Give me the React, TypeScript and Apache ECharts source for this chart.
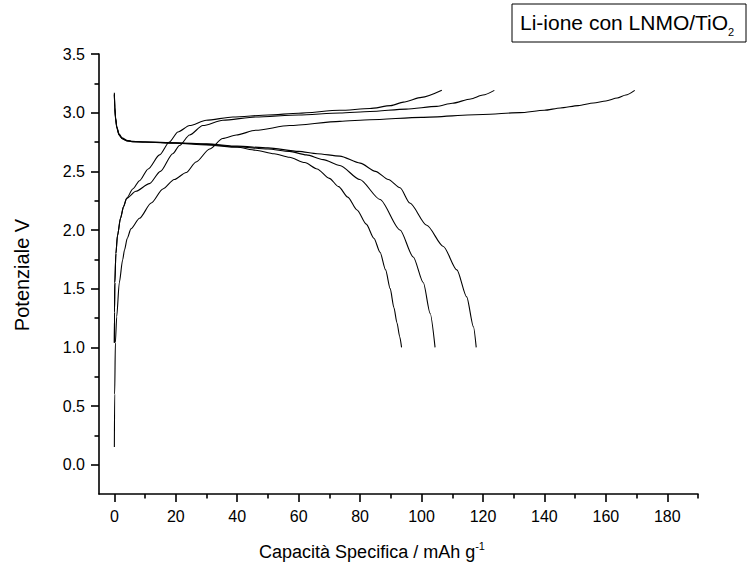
import React, { useEffect, useRef } from "react";
import * as echarts from "echarts";

const FONT = "'Liberation Sans', Arial, Helvetica, sans-serif";

// Axis ticks
const xTickValues = [0, 20, 40, 60, 80, 100, 120, 140, 160, 180];
const xMinorValues = [10, 30, 50, 70, 90, 110, 130, 150, 170, 190];
const yTickValues = [0, 0.5, 1, 1.5, 2, 2.5, 3, 3.5];
const yMinorValues = [0.25, 0.75, 1.25, 1.75, 2.25, 2.75, 3.25];

// Charge curves (capacity mAh/g, potential V)
const charge1X = [0, 0.05, 0.15, 0.5, 1.0, 2.0, 3.0, 4.0, 6, 8.2, 11, 14.7, 17.9, 20.7, 24.5, 29.9, 38.6, 50, 60, 73.4, 83.2, 90, 94.1, 100, 106.6];
const charge1V = [1.04, 1.3, 1.55, 1.8, 1.95, 2.1, 2.2, 2.27, 2.35, 2.42, 2.52, 2.64, 2.75, 2.835, 2.89, 2.935, 2.963, 2.98, 2.995, 3.02, 3.035, 3.06, 3.09, 3.13, 3.19];

const charge2X = [0, 0.05, 0.15, 0.5, 1.0, 2.0, 3.0, 4.0, 7, 11.4, 15, 19, 21.2, 24.5, 28.8, 35.3, 46, 60, 73.4, 83.2, 95, 105, 110, 116, 120, 123.7];
const charge2V = [1.04, 1.3, 1.55, 1.8, 1.95, 2.1, 2.2, 2.27, 2.33, 2.395, 2.5, 2.65, 2.72, 2.81, 2.89, 2.935, 2.963, 2.98, 2.997, 3.01, 3.03, 3.054, 3.08, 3.117, 3.15, 3.19];

const charge3X = [0, 0.1, 0.33, 0.76, 1.6, 2.7, 3.3, 4.2, 5.4, 8.2, 12, 15.8, 19.5, 23.4, 26.6, 31, 35.3, 39.7, 46, 57, 73.4, 83.2, 100, 120, 132, 140, 145.2, 151, 156, 160, 163.7, 166.5, 169.4];
const charge3V = [0.15, 0.6, 1.04, 1.26, 1.55, 1.745, 1.83, 1.93, 2.01, 2.1, 2.23, 2.35, 2.43, 2.49, 2.58, 2.69, 2.78, 2.81, 2.85, 2.89, 2.926, 2.94, 2.96, 2.985, 3.0, 3.02, 3.04, 3.06, 3.083, 3.1, 3.125, 3.15, 3.19];

// Discharge curves
const discharge1X = [0, 0.15, 0.4, 0.8, 1.5, 2.5, 4, 6, 10, 20, 30, 40, 46, 52, 57, 62, 66, 70, 73, 76, 79, 82, 84.5, 86.5, 88.3, 89.8, 91, 92, 92.9, 93.5];
const discharge1V = [3.17, 3.05, 2.96, 2.88, 2.82, 2.785, 2.765, 2.755, 2.75, 2.74, 2.725, 2.705, 2.68, 2.65, 2.62, 2.575, 2.52, 2.44, 2.37, 2.28, 2.17, 2.05, 1.93, 1.81, 1.66, 1.5, 1.34, 1.21, 1.09, 1.0];

const discharge2X = [0, 0.15, 0.4, 0.8, 1.5, 2.5, 4, 6, 10, 20, 30, 40, 50, 57, 62.5, 68, 73.4, 79.9, 86.5, 93, 97.3, 100.6, 102.8, 104.4];
const discharge2V = [3.16, 3.04, 2.95, 2.875, 2.815, 2.78, 2.762, 2.753, 2.75, 2.742, 2.73, 2.71, 2.69, 2.67, 2.64, 2.6, 2.55, 2.43, 2.26, 2.0, 1.77, 1.55, 1.29, 1.0];

const discharge3X = [0, 0.15, 0.4, 0.8, 1.5, 2.5, 4, 6, 10, 20, 30, 40, 50, 60, 66, 73.4, 80, 85, 89.2, 93, 96.2, 101.7, 107.1, 111.5, 114.7, 116.9, 117.8];
const discharge3V = [3.15, 3.03, 2.945, 2.87, 2.81, 2.778, 2.76, 2.752, 2.75, 2.744, 2.735, 2.715, 2.7, 2.67, 2.65, 2.63, 2.57, 2.5, 2.43, 2.36, 2.23, 2.04, 1.86, 1.66, 1.43, 1.175, 1.0];

const curves = [
  [charge1X, charge1V],
  [charge2X, charge2V],
  [charge3X, charge3V],
  [discharge1X, discharge1V],
  [discharge2X, discharge2V],
  [discharge3X, discharge3V],
];

const axisLineStyle = { color: "#000", width: 1.6 };

export default function App() {
  const ref = useRef<HTMLDivElement>(null);
  useEffect(() => {
    document.body.style.margin = "0";
    const chart = echarts.init(ref.current!, null, { renderer: "svg" });
    const series = curves.map(([xs, ys]) => ({
      type: "line",
      xAxisIndex: 0,
      yAxisIndex: 0,
      data: xs.map((x, i) => [x, ys[i]]),
      showSymbol: false,
      symbol: "none",
      smooth: 0.25,
      smoothMonotone: "x",
      lineStyle: { color: "#000", width: 1.1 },
      silent: true,
    }));
    chart.setOption({
      animation: false,
      backgroundColor: "#fff",
      grid: { left: 99, right: 50, top: 54, bottom: 75, outerBoundsMode: "none" },
      xAxis: [
        {
          type: "value",
          min: -5,
          max: 190,
          position: "bottom",
          axisLine: { show: true, onZero: false, lineStyle: axisLineStyle },
          axisTick: { show: true, customValues: xTickValues, length: 8, lineStyle: axisLineStyle },
          axisLabel: { customValues: xTickValues, margin: 14, fontSize: 16, color: "#000", fontFamily: FONT },
          splitLine: { show: false },
        },
        {
          type: "value",
          min: -5,
          max: 190,
          position: "bottom",
          axisLine: { show: false, onZero: false },
          axisTick: { show: true, customValues: xMinorValues, length: 4.5, lineStyle: axisLineStyle },
          axisLabel: { show: false },
          splitLine: { show: false },
        },
      ],
      yAxis: [
        {
          type: "value",
          min: -0.25,
          max: 3.5,
          position: "left",
          axisLine: { show: true, onZero: false, lineStyle: axisLineStyle },
          axisTick: { show: true, customValues: yTickValues, length: 8, lineStyle: axisLineStyle },
          axisLabel: {
            customValues: yTickValues,
            margin: 14,
            fontSize: 16,
            color: "#000",
            fontFamily: FONT,
            formatter: (v: number) => v.toFixed(1),
          },
          splitLine: { show: false },
        },
        {
          type: "value",
          min: -0.25,
          max: 3.5,
          position: "left",
          axisLine: { show: false, onZero: false },
          axisTick: { show: true, customValues: yMinorValues, length: 4.5, lineStyle: axisLineStyle },
          axisLabel: { show: false },
          splitLine: { show: false },
        },
      ],
      series,
      graphic: [
        {
          type: "rect",
          shape: { x: 512, y: 4, width: 234, height: 38 },
          style: { fill: "#fff", stroke: "#000", lineWidth: 1 },
          z: 10,
        },
        {
          type: "text",
          x: 520,
          y: 22,
          z: 11,
          style: {
            text: "{a|Li-ione con LNMO/TiO}{b|2}",
            verticalAlign: "middle",
            align: "left",
            rich: {
              a: { fontSize: 21, fontFamily: FONT, fill: "#000", lineHeight: 30, verticalAlign: "middle" },
              b: { fontSize: 11, fontFamily: FONT, fill: "#000", verticalAlign: "bottom" },
            },
          },
        },
        {
          type: "text",
          x: 372,
          y: 552,
          style: {
            text: "{a|Capacità Specifica / mAh g}{b|-1}",
            align: "center",
            verticalAlign: "middle",
            rich: {
              a: { fontSize: 18, fontFamily: FONT, fill: "#000", lineHeight: 24, verticalAlign: "middle" },
              b: { fontSize: 11, fontFamily: FONT, fill: "#000", verticalAlign: "top" },
            },
          },
        },
        {
          type: "text",
          x: 22,
          y: 275,
          rotation: Math.PI / 2,
          style: {
            text: "Potenziale V",
            align: "center",
            verticalAlign: "middle",
            fontSize: 20,
            fontFamily: FONT,
            fill: "#000",
          },
        },
      ],
    });
    return () => chart.dispose();
  }, []);
  return <div ref={ref} style={{ width: 748, height: 569 }} />;
}
